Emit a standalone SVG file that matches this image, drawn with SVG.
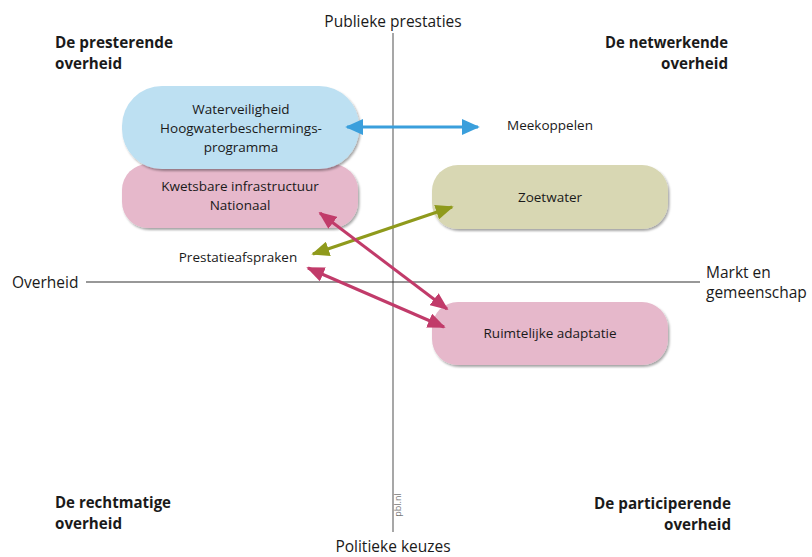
<svg xmlns="http://www.w3.org/2000/svg" width="812" height="557" viewBox="0 0 812 557">
<style>
text{font-family:"Open Sans","Liberation Sans",sans-serif;fill:#1a1a1a}
.ax{font-size:15.5px}
.q{font-size:16.5px;font-weight:bold}
.n{font-size:13.5px;text-anchor:middle}
.c{text-anchor:middle}
.node{stroke:none;filter:url(#sh)}
</style>
<defs>
<filter id="sh" x="-10%" y="-10%" width="125%" height="130%">
<feDropShadow dx="1.5" dy="2" stdDeviation="1.2" flood-color="#000" flood-opacity="0.35"/>
</filter>
<marker id="mb" viewBox="0 0 10 10" refX="9" refY="5" markerWidth="18" markerHeight="16" markerUnits="userSpaceOnUse" orient="auto-start-reverse" preserveAspectRatio="none"><path d="M0,0L10,5L0,10z" fill="#3a9fdc"/></marker>
<marker id="mo" viewBox="0 0 10 10" refX="9" refY="5" markerWidth="18" markerHeight="15" markerUnits="userSpaceOnUse" orient="auto-start-reverse" preserveAspectRatio="none"><path d="M0,0L10,5L0,10z" fill="#8f9a1c"/></marker>
<marker id="mp" viewBox="0 0 10 10" refX="9" refY="5" markerWidth="18" markerHeight="15" markerUnits="userSpaceOnUse" orient="auto-start-reverse" preserveAspectRatio="none"><path d="M0,0L10,5L0,10z" fill="#c13b6a"/></marker>
</defs>
<rect width="812" height="557" fill="#fff"/>
<g id="axes">
<line x1="393" y1="33" x2="393" y2="532" stroke="#8a8a8a" stroke-width="1.5"/>
<line x1="86" y1="282" x2="700" y2="282" stroke="#333" stroke-width="1.2"/>
<text x="401" y="505" font-size="9" transform="rotate(-90 401 505)" style="fill:#777;text-anchor:middle">pbl.nl</text>
</g>
<g id="labels">
<text class="ax c" x="393" y="27">Publieke prestaties</text>
<text class="ax c" x="393" y="552">Politieke keuzes</text>
<text class="ax" x="12" y="288">Overheid</text>
<text class="ax" x="706" y="278">Markt en</text>
<text class="ax" x="706" y="298">gemeenschap</text>
<text class="q" x="55" y="48" textLength="118" lengthAdjust="spacingAndGlyphs">De presterende</text>
<text class="q" x="55" y="69" textLength="67" lengthAdjust="spacingAndGlyphs">overheid</text>
<text class="q" x="605" y="48" textLength="123" lengthAdjust="spacingAndGlyphs">De netwerkende</text>
<text class="q" x="661" y="69" textLength="67" lengthAdjust="spacingAndGlyphs">overheid</text>
<text class="q" x="55" y="508" textLength="116" lengthAdjust="spacingAndGlyphs">De rechtmatige</text>
<text class="q" x="55" y="529" textLength="67" lengthAdjust="spacingAndGlyphs">overheid</text>
<text class="q" x="594" y="509" textLength="137" lengthAdjust="spacingAndGlyphs">De participerende</text>
<text class="q" x="664" y="530" textLength="67" lengthAdjust="spacingAndGlyphs">overheid</text>
</g>
<g id="kwetsbare">
<rect class="node" x="122" y="164" width="236" height="64" rx="26" fill="#e6b8cb"/>
<text class="n" x="240" y="191">Kwetsbare infrastructuur</text>
<text class="n" x="240" y="210">Nationaal</text>
</g>
<g id="waterveiligheid">
<rect class="node" x="122" y="86" width="237" height="83" rx="40" fill="#bde0f2"/>
<text class="n" x="241" y="114">Waterveiligheid</text>
<text class="n" x="241" y="133">Hoogwaterbeschermings-</text>
<text class="n" x="241" y="152">programma</text>
</g>
<g id="zoetwater">
<rect class="node" x="432" y="165" width="236" height="64" rx="26" fill="#d8d7b3"/>
<text class="n" x="550" y="202">Zoetwater</text>
</g>
<g id="ruimtelijke">
<rect class="node" x="432" y="302" width="236" height="63" rx="26" fill="#e6b8cb"/>
<text class="n" x="550" y="338">Ruimtelijke adaptatie</text>
</g>
<g id="meekoppelen">
<text class="n" x="550" y="130">Meekoppelen</text>
</g>
<g id="prestatieafspraken">
<text class="n" x="238" y="262">Prestatieafspraken</text>
</g>
<g id="connectors" fill="none" stroke-width="3">
<line x1="347" y1="127" x2="478" y2="127" stroke="#3a9fdc" marker-start="url(#mb)" marker-end="url(#mb)"/>
<line x1="313" y1="254" x2="452" y2="207" stroke="#8f9a1c" marker-start="url(#mo)" marker-end="url(#mo)"/>
<line x1="320" y1="213" x2="447" y2="309" stroke="#c13b6a" marker-start="url(#mp)" marker-end="url(#mp)"/>
<line x1="308" y1="268" x2="444" y2="327" stroke="#c13b6a" marker-start="url(#mp)" marker-end="url(#mp)"/>
</g>
</svg>
